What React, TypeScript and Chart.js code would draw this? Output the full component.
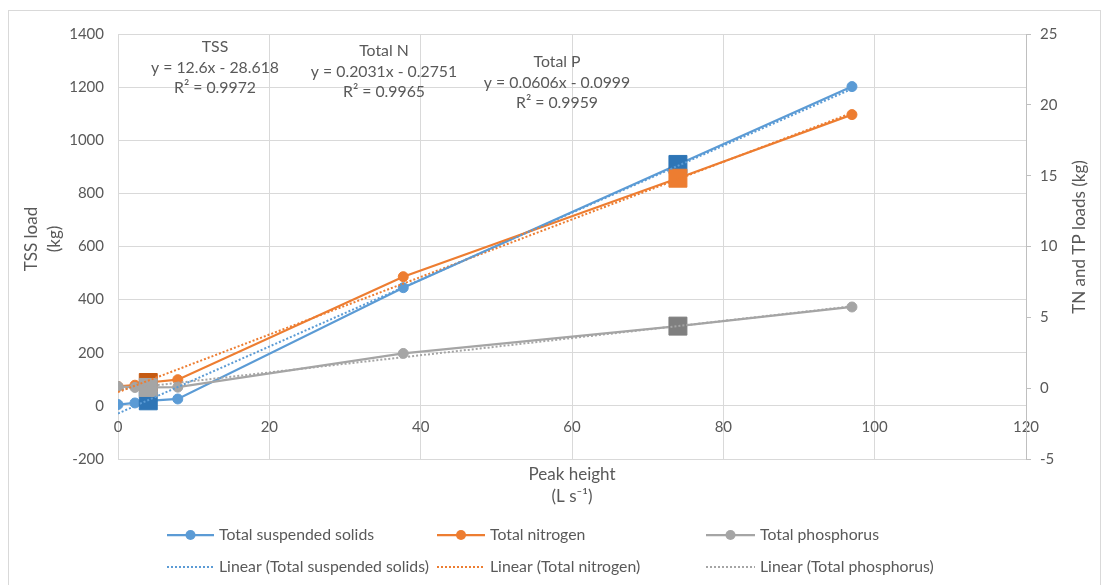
import React, { useEffect, useRef } from "react";
import { Chart, registerables } from "chart.js";

Chart.register(...registerables);

// ---------- data ----------
const peakHeight = [0, 2.24, 4, 7.9, 37.7, 74, 97];
const tssLoad = [5, 11, 19, 26, 445, 909, 1202];
const tnLoad = [0.12, 0.21, 0.4, 0.6, 7.87, 14.82, 19.31];
const tpLoad = [0.12, 0.05, 0.05, 0.07, 2.45, 4.38, 5.73];
const squarePoints = [2, 5];

const trendX = [0, 97];
const tssTrend = [-28.6, 1193.6];
const tnTrend = [-0.28, 19.43];
const tpTrend = [-0.1, 5.78];

const seriesNames = ["Total suspended solids", "Total nitrogen", "Total phosphorus"];
const trendNames = ["Linear (Total suspended solids)", "Linear (Total nitrogen)", "Linear (Total phosphorus)"];

const tssLabel = ["TSS", "y = 12.6x - 28.618", "R² = 0.9972"];
const tnLabel = ["Total N", "y = 0.2031x - 0.2751", "R² = 0.9965"];
const tpLabel = ["Total P", "y = 0.0606x - 0.0999", "R² = 0.9959"];

const xTitle = ["Peak height", "(L s⁻¹)"];
const yTitle = ["TSS load", "(kg)"];
const y1Title = "TN and TP loads (kg)";

// ---------- styles ----------
const lineColors = ["#5B9BD5", "#ED7D31", "#A5A5A5"];
const squareColors = [
  ["#2E75B6", "#2E75B6"],
  ["#C55A11", "#ED7D31"],
  ["#A5A5A5", "#7F7F7F"],
];
const TEXT = "#595959";
const FONT = "Lato";
const OX = 9;
const OY = 11;
const W = 1091;
const H = 575;

function pts(xs: number[], ys: number[]) {
  return xs.map((x, i) => ({ x, y: ys[i] }));
}

function seriesDataset(i: number, ys: number[], axis: string, order: number) {
  const n = peakHeight.length;
  const style: string[] = [];
  const radius: number[] = [];
  const fill: string[] = [];
  for (let k = 0; k < n; k++) {
    const sq = squarePoints.indexOf(k);
    if (sq >= 0) {
      style.push("rect");
      radius.push(12.7);
      fill.push(squareColors[i][sq]);
    } else {
      style.push("circle");
      radius.push(5);
      fill.push(lineColors[i]);
    }
  }
  return {
    label: seriesNames[i],
    data: pts(peakHeight, ys),
    yAxisID: axis,
    borderColor: lineColors[i],
    backgroundColor: lineColors[i],
    borderWidth: 2.25,
    pointStyle: style,
    pointRadius: radius,
    pointHoverRadius: radius,
    pointBackgroundColor: fill,
    pointBorderColor: fill,
    pointBorderWidth: 1,
    tension: 0,
    order,
  };
}

function trendDataset(i: number, ys: number[], axis: string, order: number) {
  return {
    label: trendNames[i],
    data: pts(trendX, ys),
    yAxisID: axis,
    borderColor: lineColors[i],
    backgroundColor: lineColors[i],
    borderWidth: 2,
    borderDash: [2, 2],
    pointRadius: 0,
    pointHoverRadius: 0,
    tension: 0,
    order,
  };
}

const textPlugin = {
  id: "texts",
  afterDraw(chart: any) {
    const ctx = chart.ctx as CanvasRenderingContext2D;
    ctx.save();
    ctx.fillStyle = TEXT;
    ctx.textAlign = "center";
    ctx.textBaseline = "middle";

    // trendline equations
    ctx.font = `15.8px ${FONT}`;
    const blocks: [string[], number, number[]][] = [
      [tssLabel, 215, [47, 68, 88]],
      [tnLabel, 384, [51, 72, 92]],
      [tpLabel, 557, [62, 83, 103]],
    ];
    for (const [lines, x, ys] of blocks) {
      lines.forEach((t, k) => ctx.fillText(t, x - OX, ys[k] - OY));
    }

    // axis titles
    ctx.font = `17px ${FONT}`;
    ctx.fillText(xTitle[0], 572 - OX, 475 - OY);
    ctx.fillText(xTitle[1], 572 - OX, 497 - OY);

    ctx.save();
    ctx.translate(32 - OX, 239 - OY);
    ctx.rotate(-Math.PI / 2);
    ctx.fillText(yTitle[0], 0, 0);
    ctx.restore();
    ctx.save();
    ctx.translate(55 - OX, 239 - OY);
    ctx.rotate(-Math.PI / 2);
    ctx.fillText(yTitle[1], 0, 0);
    ctx.restore();
    ctx.save();
    ctx.translate(1080 - OX, 237 - OY);
    ctx.rotate(-Math.PI / 2);
    ctx.fillText(y1Title, 0, 0);
    ctx.restore();

    // legend
    ctx.font = `15.8px ${FONT}`;
    ctx.textAlign = "left";
    const cols = [
      [167, 214, 219],
      [437, 485, 490],
      [706, 755, 760],
    ];
    const rowY = [535, 567];
    for (let i = 0; i < 3; i++) {
      const [x0, x1, tx] = cols[i];
      // series row
      let y = rowY[0] - OY;
      ctx.strokeStyle = lineColors[i];
      ctx.lineWidth = 2.25;
      ctx.setLineDash([]);
      ctx.beginPath();
      ctx.moveTo(x0 - OX, y);
      ctx.lineTo(x1 - OX, y);
      ctx.stroke();
      ctx.fillStyle = lineColors[i];
      ctx.beginPath();
      ctx.arc((x0 + x1) / 2 - OX, y, 5, 0, Math.PI * 2);
      ctx.fill();
      ctx.fillStyle = TEXT;
      ctx.fillText(seriesNames[i], tx - OX, y);
      // trend row
      y = rowY[1] - OY;
      ctx.lineWidth = 2;
      ctx.setLineDash([2, 2]);
      ctx.beginPath();
      ctx.moveTo(x0 - OX, y);
      ctx.lineTo(x1 - OX, y);
      ctx.stroke();
      ctx.setLineDash([]);
      ctx.fillText(trendNames[i], tx - OX, y);
    }
    ctx.restore();
  },
};

export default function App() {
  const ref = useRef<HTMLCanvasElement | null>(null);

  useEffect(() => {
    if (!ref.current) return;
    const tickFont = { family: FONT, size: 15 };
    const plain = (v: any) => String(v);
    const chart = new Chart(ref.current, {
      type: "line",
      data: {
        datasets: [
          trendDataset(0, tssTrend, "y", 0),
          trendDataset(1, tnTrend, "y1", 1),
          trendDataset(2, tpTrend, "y1", 2),
          seriesDataset(2, tpLoad, "y1", 3),
          seriesDataset(1, tnLoad, "y1", 4),
          seriesDataset(0, tssLoad, "y", 5),
        ] as any,
      },
      options: {
        responsive: false,
        animation: false,
        devicePixelRatio: 1,
        layout: { padding: { top: 9, bottom: 127, left: 0, right: 0 } },
        plugins: {
          legend: { display: false },
          tooltip: { enabled: false },
          title: { display: false },
        },
        scales: {
          x: {
            type: "linear",
            min: 0,
            max: 120,
            position: { y: 0 } as any,
            ticks: { stepSize: 20, color: TEXT, font: tickFont, padding: 12, maxRotation: 0, callback: plain },
            grid: { color: "#d9d9d9", drawTicks: false, lineWidth: 1 },
            border: { display: false },
            afterFit: (s: any) => {
              s.height = 0;
            },
          },
          y: {
            type: "linear",
            position: "left",
            min: -200,
            max: 1400,
            ticks: { stepSize: 200, color: TEXT, font: tickFont, padding: 14, callback: plain },
            grid: { color: "#d9d9d9", drawTicks: false },
            border: { display: false },
            afterFit: (s: any) => {
              s.width = 109;
            },
          },
          y1: {
            type: "linear",
            position: "right",
            min: -5,
            max: 25,
            ticks: { stepSize: 5, color: TEXT, font: tickFont, padding: 9, callback: plain },
            grid: { drawOnChartArea: false, color: "#bfbfbf", tickLength: 5 },
            border: { display: true, color: "#bfbfbf" },
            afterFit: (s: any) => {
              s.width = 74;
            },
          },
        },
      } as any,
      plugins: [textPlugin],
    });
    return () => chart.destroy();
  }, []);

  return (
    <div
      style={{
        position: "relative",
        top: 2,
        width: W + 2,
        height: H + 2,
        border: "1px solid #d9d9d9",
        boxSizing: "border-box",
        background: "#fff",
      }}
    >
      <canvas ref={ref} width={W} height={H} style={{ display: "block" }} />
    </div>
  );
}
